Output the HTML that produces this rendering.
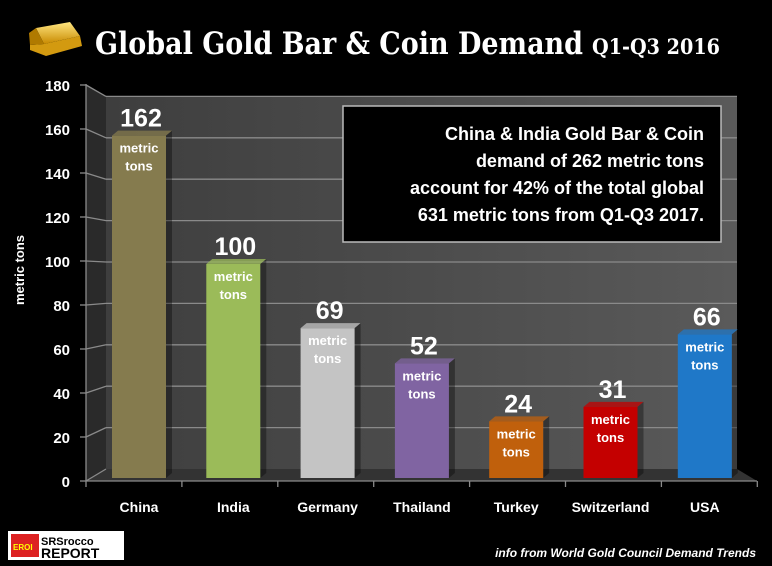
<!DOCTYPE html>
<html><head><meta charset="utf-8"><style>
html,body{margin:0;padding:0;background:#000;width:772px;height:566px;overflow:hidden}
svg{display:block;font-family:"Liberation Sans",sans-serif}
</style></head><body>
<svg id="c" width="772" height="566" viewBox="0 0 772 566">
<defs>
<linearGradient id="wall" x1="0" y1="0" x2="1" y2="0"><stop offset="0" stop-color="#3e3e3e"/><stop offset="1" stop-color="#5a5a5a"/></linearGradient>
<linearGradient id="gold" x1="0" y1="0" x2="0" y2="1"><stop offset="0" stop-color="#ffe680"/><stop offset="1" stop-color="#c88a00"/></linearGradient>
</defs>
<g>
<polygon points="36,28 70,22 80,36 44,44" fill="url(#gold)"/>
<polygon points="30,45 44,44 80,36 82,46 46,56 30,50" fill="#d39a10"/>
<polygon points="29,33 36,28 44,44 30,45" fill="#b07a00"/>
</g>
<text x="95" y="54" font-family="'DejaVu Serif','Liberation Serif',serif" font-weight="bold" font-size="31" fill="#fff"><tspan textLength="488" lengthAdjust="spacingAndGlyphs">Global Gold Bar &amp; Coin Demand</tspan><tspan x="592" font-size="21" textLength="128" lengthAdjust="spacingAndGlyphs">Q1-Q3 2016</tspan></text>
<g id="plot">
<rect x="106" y="96" width="631" height="373" fill="url(#wall)"/>
<polygon points="86,84 106,96 106,469 86,481" fill="#2a2a2a"/>
<polygon points="86,481 106,469 737,469 757,481" fill="#333"/>
</g>
<g id="grid"></g>
<g id="bars"></g>
<g>
<rect x="343" y="106" width="378" height="136" fill="#000" stroke="#bbb" stroke-width="1.5"/>
<g font-weight="bold" font-size="18" fill="#fff" text-anchor="end">
<text x="704" y="140">China &amp; India Gold Bar &amp; Coin</text>
<text x="704" y="167">demand of 262 metric tons</text>
<text x="704" y="194">account for 42% of the total global</text>
<text x="704" y="221">631 metric tons from Q1-Q3 2017.</text>
</g></g>
<text transform="translate(24,270) rotate(-90)" text-anchor="middle" font-weight="bold" font-size="13" fill="#fff">metric tons</text>
<g>
<rect x="8" y="531" width="116" height="29" fill="#fff"/>
<rect x="11" y="534" width="28" height="23" fill="#d22"/>
<text x="13" y="550" font-size="8" font-weight="bold" fill="#ff0">EROI</text>
<text x="41" y="545" font-size="11" font-weight="bold" fill="#000">SRSrocco</text>
<text x="41" y="558" font-size="14" font-weight="bold" fill="#000">REPORT</text>
</g>
<text x="756" y="557" text-anchor="end" font-style="italic" font-weight="bold" font-size="12" fill="#fff">info from World Gold Council Demand Trends</text>
</svg>
<script>
const categories=["China","India","Germany","Thailand","Turkey","Switzerland","USA"];
const values=[162,100,69,52,24,31,66];
const colors=["#857b4e","#9bbb59","#c4c4c4","#8064a2","#c0600c","#c40000","#1f78c8"];
const yTicks=[0,20,40,60,80,100,120,140,160,180];
const NS="http://www.w3.org/2000/svg";
function yBack(v){return 469-v*2.07;}
function yFront(v){return 481-v*2.2;}
function xCenter(i){return 139+i*94.3;}
function mk(t,a,p){const e=document.createElementNS(NS,t);for(const k in a)e.setAttribute(k,a[k]);p.appendChild(e);return e;}
const grid=document.getElementById('grid'),bars=document.getElementById('bars');
yTicks.forEach(v=>{
 const g=mk('g',{},grid);
 
 
 if(v>0)mk('line',{x1:106,x2:737,y1:yBack(v),y2:yBack(v),stroke:'#8a8a8a','stroke-width':1.3},g);
 mk('line',{x1:86,x2:106,y1:yFront(v),y2:yBack(v),stroke:'#8a8a8a','stroke-width':1.3},g);
 mk('line',{x1:80,x2:86,y1:yFront(v),y2:yFront(v),stroke:'#8a8a8a','stroke-width':1.3},g);
 const t=mk('text',{x:70,y:yFront(v)+6,'text-anchor':'end','font-weight':'bold','font-size':15,fill:'#fff'},g);
 t.textContent=v;
 
 
});
mk('line',{x1:86,x2:86,y1:84,y2:481,stroke:'#8a8a8a','stroke-width':1.3},grid);
mk('line',{x1:86,x2:757,y1:481,y2:481,stroke:'#8a8a8a','stroke-width':1.3},grid);
for(let i=0;i<=categories.length;i++){mk('line',{x1:86+i*95.9,x2:86+i*95.9,y1:481,y2:487,stroke:'#8a8a8a','stroke-width':1.3},grid);}
categories.forEach((c,i)=>{
 const v=values[i],cx=xCenter(i),w=54,top=yBack(v)+2,bot=478;
 const g=mk('g',{},bars);
 
 
 mk('polygon',{points:`${cx-w/2},${top} ${cx-w/2+6},${top-5} ${cx+w/2+6},${top-5} ${cx+w/2},${top}`,fill:colors[i],opacity:0.75},g);
 mk('polygon',{points:`${cx+w/2},${top} ${cx+w/2+6},${top-5} ${cx+w/2+6},${bot-5} ${cx+w/2},${bot}`,fill:'#000',opacity:0.35},g);
 mk('rect',{x:cx-w/2,y:top,width:w,height:bot-top,fill:colors[i]},g);
 const lv=mk('text',{x:cx+2,y:top-9,'text-anchor':'middle','font-weight':'bold','font-size':25,fill:'#fff'},g);
 lv.textContent=v;
 
 
 const t1=mk('text',{x:cx,y:top+17,'text-anchor':'middle','font-weight':'bold','font-size':13,fill:'#fff'},g);t1.textContent='metric';
 const t2=mk('text',{x:cx,y:top+35,'text-anchor':'middle','font-weight':'bold','font-size':13,fill:'#fff'},g);t2.textContent='tons';
 const xl=mk('text',{x:cx,y:512,'text-anchor':'middle','font-weight':'bold','font-size':14,fill:'#fff'},g);
 xl.textContent=c;
 
 
});
</script>
</body></html>
